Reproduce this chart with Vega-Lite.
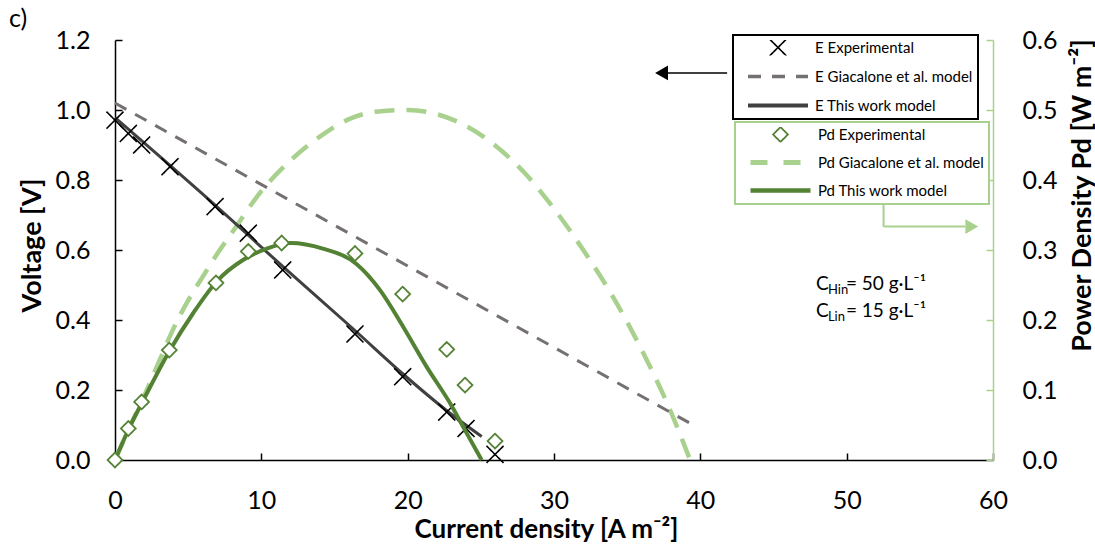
{
  "$schema": "https://vega.github.io/schema/vega-lite/v6.json",
  "width": 878,
  "height": 420,
  "autosize": {"type": "none"},
  "padding": {"left": 115, "top": 40, "right": 102, "bottom": 98},
  "background": "white",
  "config": {
    "font": "Lato",
    "view": {"stroke": null},
    "legend": {"strokeWidth": 2, "symbolOpacity": 1},
    "axis": {
      "grid": false,
      "domainColor": "black",
      "domainWidth": 1.5,
      "tickColor": "black",
      "tickWidth": 1.5,
      "tickSize": -7,
      "labelFont": "Lato",
      "labelFontSize": 25,
      "labelColor": "black",
      "labelFlush": false,
      "labelOverlap": false,
      "titleFont": "Lato",
      "titleFontSize": 27,
      "titleFontWeight": "bold",
      "titleColor": "black"
    }
  },
  "title": {
    "text": "c)",
    "anchor": "start",
    "frame": "group",
    "orient": "top",
    "fontSize": 25,
    "fontWeight": "normal",
    "font": "Lato",
    "color": "black",
    "baseline": "top",
    "offset": 21,
    "dx": -106,
    "dy": 25
  },
  "encoding": {
    "x": {
      "field": "i",
      "type": "quantitative",
      "scale": {"domain": [0, 60], "nice": false, "zero": false},
      "axis": {
        "values": [0, 10, 20, 30, 40, 50, 60],
        "title": "Current density [A m⁻²]",
        "labelPadding": 35,
        "labelBaseline": "top",
        "titleFontSize": 26,
        "titleX": 431,
        "titleY": 69,
        "titleBaseline": "middle",
        "titleAlign": "center"
      }
    }
  },
  "layer": [
    {
      "data": {"values": [
        {"i": 0, "P": 0}, {"i": 1, "P": 0.047}, {"i": 2, "P": 0.092}, {"i": 3, "P": 0.14},
        {"i": 4, "P": 0.188}, {"i": 5, "P": 0.228}, {"i": 6, "P": 0.262}, {"i": 7, "P": 0.295},
        {"i": 8, "P": 0.325}, {"i": 10, "P": 0.384}, {"i": 12, "P": 0.428}, {"i": 14, "P": 0.462},
        {"i": 16, "P": 0.487}, {"i": 18, "P": 0.498}, {"i": 20, "P": 0.5}, {"i": 22, "P": 0.494},
        {"i": 24, "P": 0.477}, {"i": 26, "P": 0.449}, {"i": 28, "P": 0.41}, {"i": 30, "P": 0.359},
        {"i": 32, "P": 0.3}, {"i": 34, "P": 0.234}, {"i": 36, "P": 0.157}, {"i": 38, "P": 0.068},
        {"i": 39.3, "P": 0}
      ]},
      "mark": {"type": "line", "color": "#a9d18e", "strokeWidth": 4.5, "strokeDash": [20, 12], "interpolate": "monotone"},
      "encoding": {
        "y": {"field": "P", "type": "quantitative", "scale": {"domain": [0, 0.6], "nice": false}, "axis": null}
      }
    },
    {
      "encoding": {
        "y": {
          "field": "V",
          "type": "quantitative",
          "scale": {"domain": [0, 1.2], "nice": false},
          "axis": {
            "orient": "left",
            "values": [0, 0.2, 0.4, 0.6, 0.8, 1.0, 1.2],
            "format": ".1f",
            "title": "Voltage [V]",
            "labelPadding": 32,
            "titleX": -83,
            "titleY": 205,
            "titleAngle": 270,
            "titleAlign": "center",
            "titleBaseline": "middle"
          }
        }
      },
      "layer": [
        {
          "data": {"values": [{"i": 0, "V": 1.02}, {"i": 39.3, "V": 0.105}]},
          "mark": {"type": "line", "color": "#767171", "strokeWidth": 3, "strokeDash": [13, 10]}
        },
        {
          "data": {"values": [
            {"i": 0, "V": 0.978}, {"i": 6.84, "V": 0.728}, {"i": 11.46, "V": 0.553},
            {"i": 16.4, "V": 0.37}, {"i": 19.7, "V": 0.245}, {"i": 22.7, "V": 0.14}, {"i": 25.06, "V": 0.067}
          ]},
          "mark": {"type": "line", "color": "#404040", "strokeWidth": 3, "interpolate": "monotone"}
        },
        {
          "data": {"values": [
            {"i": 0, "V": 0.971, "series": "E Experimental"},
            {"i": 0.91, "V": 0.933, "series": "E Experimental"},
            {"i": 1.82, "V": 0.9, "series": "E Experimental"},
            {"i": 3.76, "V": 0.838, "series": "E Experimental"},
            {"i": 6.84, "V": 0.724, "series": "E Experimental"},
            {"i": 9.11, "V": 0.648, "series": "E Experimental"},
            {"i": 11.46, "V": 0.543, "series": "E Experimental"},
            {"i": 16.4, "V": 0.36, "series": "E Experimental"},
            {"i": 19.66, "V": 0.238, "series": "E Experimental"},
            {"i": 22.67, "V": 0.137, "series": "E Experimental"},
            {"i": 23.99, "V": 0.09, "series": "E Experimental"},
            {"i": 25.97, "V": 0.016, "series": "E Experimental"}
          ]},
          "mark": {"type": "point", "opacity": 1, "filled": false},
          "encoding": {
            "color": {
              "field": "series",
              "type": "nominal",
              "scale": {
                "domain": ["E Experimental", "E Giacalone et al. model", "E This work model"],
                "range": ["#000000", "#767171", "#404040"]
              },
              "legend": {
                "title": null,
                "orient": "none",
                "legendX": 618,
                "legendY": -5,
                "direction": "vertical",
                "columns": 1,
                "padding": 5,
                "strokeColor": "black",
                "fillColor": "white",
                "labelFont": "Lato",
                "labelFontSize": 15,
                "labelColor": "black",
                "labelLimit": 300,
                "clipHeight": 15,
                "rowPadding": 13,
                "symbolOffset": 8,
                "labelOffset": 5
              }
            },
            "shape": {
              "field": "series",
              "type": "nominal",
              "scale": {
                "domain": ["E Experimental", "E Giacalone et al. model", "E This work model"],
                "range": ["M-1,-1L1,1M-1,1L1,-1", "stroke", "stroke"]
              }
            },
            "size": {
              "field": "series",
              "type": "nominal",
              "scale": {
                "type": "ordinal",
                "domain": ["E Experimental", "E Giacalone et al. model", "E This work model"],
                "range": [290, 3600, 3600]
              }
            },
            "strokeWidth": {
              "field": "series",
              "type": "nominal",
              "scale": {
                "type": "ordinal",
                "domain": ["E Experimental", "E Giacalone et al. model", "E This work model"],
                "range": [1.6, 3.5, 4]
              }
            },
            "strokeDash": {
              "field": "series",
              "type": "nominal",
              "scale": {
                "domain": ["E Experimental", "E Giacalone et al. model", "E This work model"],
                "range": [[1, 0], [13, 11], [1, 0]]
              }
            }
          }
        },
        {
          "data": {"values": [{"i": 37.3, "i2": 41.83, "V": 1.106, "V2": 1.106}]},
          "mark": {"type": "rule", "color": "black", "strokeWidth": 1.5},
          "encoding": {"x2": {"field": "i2"}, "y2": {"field": "V2"}}
        },
        {
          "data": {"values": [{"i": 37.35, "V": 1.106}]},
          "mark": {"type": "point", "shape": "triangle-left", "filled": true, "color": "black", "size": 220, "opacity": 1}
        },
        {
          "data": {"values": [
            {"i": 52.52, "i2": 52.52, "V": 0.729, "V2": 0.667},
            {"i": 52.52, "i2": 58.1, "V": 0.667, "V2": 0.667}
          ]},
          "mark": {"type": "rule", "color": "#a9d18e", "strokeWidth": 2},
          "encoding": {"x2": {"field": "i2"}, "y2": {"field": "V2"}}
        },
        {
          "data": {"values": [{"i": 58.55, "V": 0.667}]},
          "mark": {"type": "point", "shape": "triangle-right", "filled": true, "color": "#a9d18e", "size": 220, "opacity": 1}
        },
        {
          "data": {"values": [
            {"i": 47.9, "V": 0.486, "c": "C", "sub": "Hin", "rest": "= 50 g·L⁻¹"},
            {"i": 47.9, "V": 0.409, "c": "C", "sub": "Lin", "rest": "= 15 g·L⁻¹"}
          ]},
          "layer": [
            {
              "mark": {"type": "text", "align": "left", "baseline": "alphabetic", "font": "Lato", "fontSize": 19, "color": "black"},
              "encoding": {"text": {"field": "c"}}
            },
            {
              "mark": {"type": "text", "align": "left", "baseline": "alphabetic", "font": "Lato", "fontSize": 13, "color": "black", "dx": 12, "dy": 4},
              "encoding": {"text": {"field": "sub"}}
            },
            {
              "mark": {"type": "text", "align": "left", "baseline": "alphabetic", "font": "Lato", "fontSize": 19, "color": "black", "dx": 30},
              "encoding": {"text": {"field": "rest"}}
            }
          ]
        }
      ]
    },
    {
      "encoding": {
        "y": {
          "field": "P",
          "type": "quantitative",
          "scale": {"domain": [0, 0.6], "nice": false},
          "axis": {
            "orient": "right",
            "values": [0, 0.1, 0.2, 0.3, 0.4, 0.5, 0.6],
            "format": ".1f",
            "title": "Power Density Pd [W m⁻²]",
            "labelPadding": 36,
            "domainColor": "#a9d18e",
            "tickColor": "#a9d18e",
            "titleX": 89,
            "titleY": 155,
            "titleAngle": 270,
            "titleAlign": "center",
            "titleBaseline": "middle"
          }
        }
      },
      "layer": [
        {
          "data": {"values": [
            {"i": 0, "P": 0}, {"i": 1, "P": 0.047}, {"i": 2, "P": 0.088}, {"i": 3.7, "P": 0.155},
            {"i": 5.35, "P": 0.21}, {"i": 6.95, "P": 0.255}, {"i": 8.77, "P": 0.286}, {"i": 10.37, "P": 0.302},
            {"i": 12, "P": 0.31}, {"i": 14.2, "P": 0.302}, {"i": 16.5, "P": 0.28}, {"i": 18.1, "P": 0.243},
            {"i": 19.7, "P": 0.19}, {"i": 21.3, "P": 0.133}, {"i": 22.9, "P": 0.081}, {"i": 24.04, "P": 0.038},
            {"i": 25.06, "P": 0}
          ]},
          "mark": {"type": "line", "color": "#548235", "strokeWidth": 4, "interpolate": "monotone"}
        },
        {
          "data": {"values": [
            {"i": 0, "P": 0, "series": "Pd Experimental"},
            {"i": 0.91, "P": 0.045, "series": "Pd Experimental"},
            {"i": 1.82, "P": 0.083, "series": "Pd Experimental"},
            {"i": 3.71, "P": 0.157, "series": "Pd Experimental"},
            {"i": 6.9, "P": 0.253, "series": "Pd Experimental"},
            {"i": 9.11, "P": 0.298, "series": "Pd Experimental"},
            {"i": 11.39, "P": 0.31, "series": "Pd Experimental"},
            {"i": 16.4, "P": 0.295, "series": "Pd Experimental"},
            {"i": 19.66, "P": 0.237, "series": "Pd Experimental"},
            {"i": 22.67, "P": 0.158, "series": "Pd Experimental"},
            {"i": 23.92, "P": 0.107, "series": "Pd Experimental"},
            {"i": 25.97, "P": 0.027, "series": "Pd Experimental"}
          ]},
          "mark": {"type": "point", "opacity": 1, "filled": false, "fill": "white"},
          "encoding": {
            "color": {
              "field": "series",
              "type": "nominal",
              "scale": {
                "domain": ["Pd Experimental", "Pd Giacalone et al. model", "Pd This work model"],
                "range": ["#548235", "#a9d18e", "#548235"]
              },
              "legend": {
                "title": null,
                "orient": "none",
                "legendX": 620,
                "legendY": 82,
                "direction": "vertical",
                "columns": 1,
                "padding": 5,
                "strokeColor": "#a9d18e",
                "fillColor": "white",
                "labelFont": "Lato",
                "labelFontSize": 15,
                "labelColor": "black",
                "labelLimit": 300,
                "clipHeight": 15,
                "rowPadding": 12,
                "symbolOffset": 8,
                "labelOffset": 5
              }
            },
            "shape": {
              "field": "series",
              "type": "nominal",
              "scale": {
                "domain": ["Pd Experimental", "Pd Giacalone et al. model", "Pd This work model"],
                "range": ["diamond", "stroke", "stroke"]
              }
            },
            "size": {
              "field": "series",
              "type": "nominal",
              "scale": {
                "type": "ordinal",
                "domain": ["Pd Experimental", "Pd Giacalone et al. model", "Pd This work model"],
                "range": [220, 3600, 3600]
              }
            },
            "strokeWidth": {
              "field": "series",
              "type": "nominal",
              "scale": {
                "type": "ordinal",
                "domain": ["Pd Experimental", "Pd Giacalone et al. model", "Pd This work model"],
                "range": [1.8, 5, 4.5]
              }
            },
            "strokeDash": {
              "field": "series",
              "type": "nominal",
              "scale": {
                "domain": ["Pd Experimental", "Pd Giacalone et al. model", "Pd This work model"],
                "range": [[1, 0], [17, 16], [1, 0]]
              }
            }
          }
        }
      ]
    }
  ],
  "resolve": {
    "scale": {
      "y": "independent",
      "color": "independent",
      "shape": "independent",
      "size": "independent",
      "strokeWidth": "independent",
      "strokeDash": "independent"
    }
  }
}
